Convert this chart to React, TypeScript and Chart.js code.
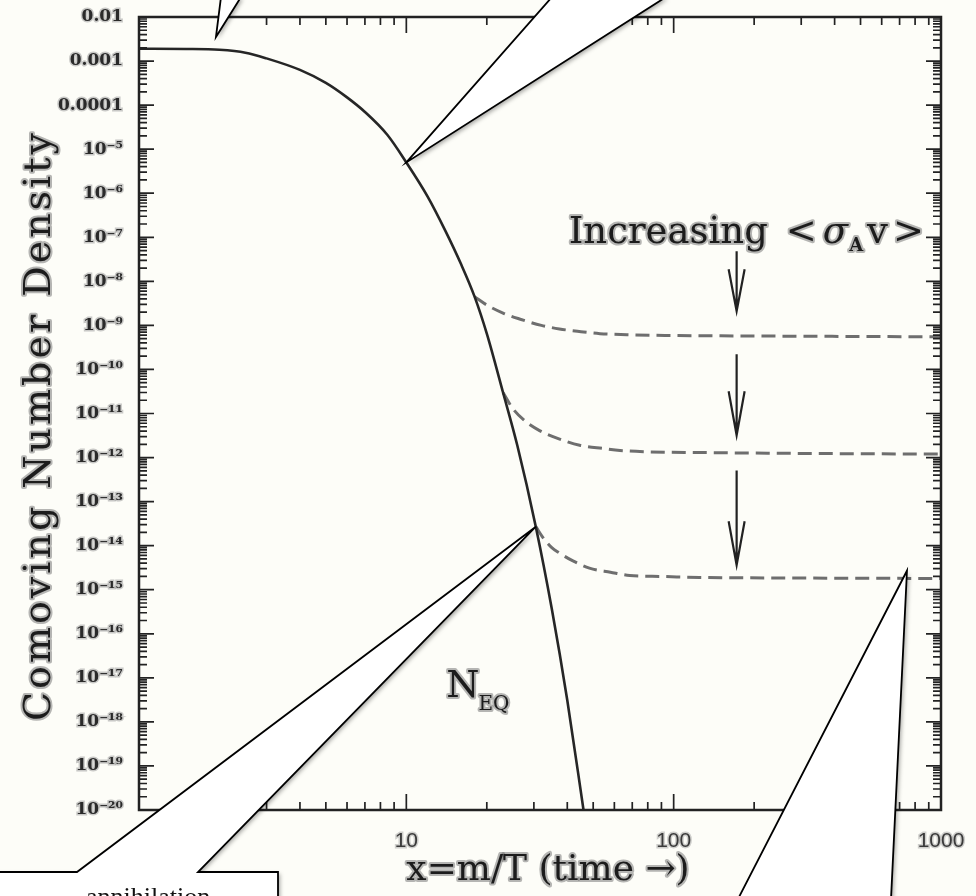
import React, { useEffect, useRef } from "react";
import { Chart, registerables } from "chart.js";

Chart.register(...registerables);

// ---------------- data ----------------
const X_MIN = 1;
const X_MAX = 1000;
const Y_MIN = 1e-20;
const Y_MAX = 1e-2;

const xTickValues = [10, 100, 1000];
const xTickLabels = ["10", "100", "1000"];

const yTickValues = [
  1e-2, 1e-3, 1e-4, 1e-5, 1e-6, 1e-7, 1e-8, 1e-9, 1e-10, 1e-11,
  1e-12, 1e-13, 1e-14, 1e-15, 1e-16, 1e-17, 1e-18, 1e-19, 1e-20,
];
const yTickLabels = [
  "0.01", "0.001", "0.0001", "10⁻⁵", "10⁻⁶", "10⁻⁷", "10⁻⁸", "10⁻⁹", "10⁻¹⁰", "10⁻¹¹",
  "10⁻¹²", "10⁻¹³", "10⁻¹⁴", "10⁻¹⁵", "10⁻¹⁶", "10⁻¹⁷", "10⁻¹⁸", "10⁻¹⁹", "10⁻²⁰",
];

// equilibrium abundance (solid)
const eqX = [1, 1.5, 2, 2.5, 3, 4, 5, 6, 7, 8.5, 10, 12, 14, 16, 18, 20, 23, 26, 30.5, 35, 40, 46];
const eqY = [
  1.9e-3, 1.88e-3, 1.8e-3, 1.55e-3, 1.15e-3, 6.3e-4, 3.2e-4, 1.5e-4, 7e-5, 2.1e-5, 5e-6,
  8.5e-7, 1.4e-7, 2.5e-8, 4.5e-9, 6.5e-10, 3e-11, 1.9e-12, 2.7e-14, 3.7e-16, 3.1e-18, 1e-20,
];

// freeze-out curves (dashed), increasing <σv> from top to bottom
const d1X = [18, 20, 23, 26.5, 32, 37.4, 45, 53, 70, 100, 150, 250, 500, 1000];
const d1Y = [4.5e-9, 2.9e-9, 1.9e-9, 1.4e-9, 1.0e-9, 8.3e-10, 7.2e-10, 6.5e-10, 6.1e-10, 5.9e-10, 5.8e-10, 5.7e-10, 5.6e-10, 5.5e-10];

const d2X = [23, 25, 28, 31.5, 37, 44.5, 55, 63, 80, 125, 250, 500, 1000];
const d2Y = [3e-11, 1.3e-11, 6.5e-12, 4.1e-12, 2.7e-12, 1.9e-12, 1.6e-12, 1.45e-12, 1.35e-12, 1.3e-12, 1.25e-12, 1.22e-12, 1.2e-12];

const d3X = [30.5, 32.5, 35, 37.4, 42, 48.4, 58, 68.5, 90, 125, 250, 500, 1000];
const d3Y = [2.7e-14, 1.5e-14, 9e-15, 6.8e-15, 4.5e-15, 3.1e-15, 2.5e-15, 2.1e-15, 2e-15, 1.9e-15, 1.85e-15, 1.82e-15, 1.8e-15];

// annotations (data coordinates)
const arrowX = 172;
const arrowTops = [4.8e-8, 2.2e-10, 5.1e-13];
const arrowTips = [2.1e-9, 3.2e-12, 3.6e-15];
const increasingAnchor = { x: 40.5, y: 7.5e-8 };
const neqAnchor = { x: 14.1, y: 3.7e-18 };
const calloutTips = [
  { x: 1.94, y: 3.5e-3 },
  { x: 10, y: 5e-6 },
  { x: 30.5, y: 2.7e-14 },
  { x: 746, y: 2.7e-15 },
];

const yTitle = "Comoving Number Density";
const xTitle = "x=m/T (time →)";
const calloutText = "annihilation";

// ---------------- helpers ----------------
const BG = "#fdfdf8";
const INK = "#1c1c1c";

const pts = (xs: number[], ys: number[]) => xs.map((x, i) => ({ x, y: ys[i] }));

function labelFor(values: number[], labels: string[], v: number) {
  for (let i = 0; i < values.length; i++) {
    if (Math.abs(Math.log10(values[i]) - Math.log10(v)) < 1e-6) return labels[i];
  }
  return "";
}

function haloText(ctx: CanvasRenderingContext2D, s: string, x: number, y: number) {
  ctx.lineJoin = "round";
  ctx.lineWidth = 4;
  ctx.strokeStyle = "rgba(110,110,110,0.5)";
  ctx.strokeText(s, x, y);
  ctx.fillStyle = INK;
  ctx.fillText(s, x, y);
}

const framePlugin = {
  id: "frame",
  beforeDraw(chart: any) {
    const { ctx, width, height } = chart;
    ctx.save();
    ctx.fillStyle = BG;
    ctx.fillRect(0, 0, width, height);
    ctx.restore();
  },
  afterDraw(chart: any) {
    const { ctx, chartArea: a, scales, height } = chart;
    const xs = scales.x;
    const ys = scales.y;
    ctx.save();

    // frame
    ctx.strokeStyle = "#222";
    ctx.lineWidth = 2.5;
    ctx.strokeRect(a.left, a.top, a.right - a.left, a.bottom - a.top);

    // inward ticks on all four sides
    ctx.lineWidth = 1.7;
    ctx.beginPath();
    for (let d = 0; d < 3; d++) {
      for (let m = 1; m <= 9; m++) {
        const v = m * Math.pow(10, d);
        if (v <= X_MIN || v >= X_MAX) continue;
        const px = xs.getPixelForValue(v);
        const len = m === 1 ? 16 : 8;
        ctx.moveTo(px, a.bottom);
        ctx.lineTo(px, a.bottom - len);
        ctx.moveTo(px, a.top);
        ctx.lineTo(px, a.top + len);
      }
    }
    for (let e = -20; e <= -3; e++) {
      for (let m = 1; m <= 9; m++) {
        const v = m * Math.pow(10, e);
        if (v <= Y_MIN || v >= Y_MAX) continue;
        const py = ys.getPixelForValue(v);
        const len = m === 1 ? 15 : 8;
        ctx.moveTo(a.left, py);
        ctx.lineTo(a.left + len, py);
        ctx.moveTo(a.right, py);
        ctx.lineTo(a.right - len, py);
      }
    }
    ctx.stroke();

    // arrows
    const ax = xs.getPixelForValue(arrowX);
    ctx.strokeStyle = "#222";
    ctx.lineWidth = 2.2;
    for (let i = 0; i < arrowTops.length; i++) {
      const t = ys.getPixelForValue(arrowTops[i]);
      const b = ys.getPixelForValue(arrowTips[i]);
      const head = Math.min(44, (b - t) * 0.7);
      ctx.beginPath();
      ctx.moveTo(ax, t);
      ctx.lineTo(ax, b);
      ctx.moveTo(ax - 8, b - head);
      ctx.lineTo(ax, b);
      ctx.lineTo(ax + 8, b - head);
      ctx.stroke();
    }

    // "Increasing <σ_A v>"
    ctx.textBaseline = "alphabetic";
    ctx.textAlign = "left";
    let px = xs.getPixelForValue(increasingAnchor.x);
    const py = ys.getPixelForValue(increasingAnchor.y);
    ctx.font = '37px "DejaVu Serif"';
    haloText(ctx, "Increasing", px, py);
    px += ctx.measureText("Increasing").width + 18;
    haloText(ctx, "<", px, py);
    px += ctx.measureText("<").width + 6;
    ctx.font = 'italic 37px "DejaVu Serif"';
    haloText(ctx, "σ", px, py);
    px += ctx.measureText("σ").width + 1;
    ctx.font = 'bold 18px "DejaVu Serif"';
    haloText(ctx, "A", px, py + 8);
    px += ctx.measureText("A").width + 4;
    ctx.font = '37px "DejaVu Serif"';
    haloText(ctx, "v", px, py);
    px += ctx.measureText("v").width + 5;
    haloText(ctx, ">", px, py);

    // N_EQ
    const nx = xs.getPixelForValue(neqAnchor.x);
    const ny = ys.getPixelForValue(neqAnchor.y);
    ctx.font = '38px "DejaVu Serif"';
    haloText(ctx, "N", nx, ny);
    const nw = ctx.measureText("N").width;
    ctx.font = '20px "DejaVu Serif"';
    haloText(ctx, "EQ", nx + nw - 1, ny + 13);

    // axis titles
    ctx.font = '38px "DejaVu Serif"';
    (ctx as any).letterSpacing = "3px";
    ctx.textAlign = "center";
    ctx.textBaseline = "middle";
    ctx.save();
    ctx.translate(40, (a.top + a.bottom) / 2 + 12);
    ctx.rotate(-Math.PI / 2);
    haloText(ctx, yTitle, 0, 0);
    ctx.restore();
    (ctx as any).letterSpacing = "0px";
    ctx.font = '36px "DejaVu Serif"';
    haloText(ctx, xTitle, (a.left + a.right) / 2 + 8, a.bottom + 61);

    // callouts (speech-bubble pointers)
    const tip = (i: number) => ({
      x: xs.getPixelForValue(calloutTips[i].x),
      y: ys.getPixelForValue(calloutTips[i].y),
    });
    const drawCallout = (fill: number[][], stroke: number[][]) => {
      ctx.save();
      ctx.fillStyle = "#ffffff";
      ctx.shadowColor = "rgba(0,0,0,0.35)";
      ctx.shadowBlur = 4;
      ctx.shadowOffsetX = 2;
      ctx.shadowOffsetY = 2;
      ctx.beginPath();
      fill.forEach(([x, y], k) => (k === 0 ? ctx.moveTo(x, y) : ctx.lineTo(x, y)));
      ctx.closePath();
      ctx.fill();
      ctx.restore();
      ctx.save();
      ctx.strokeStyle = "#000";
      ctx.lineWidth = 1.8;
      ctx.lineJoin = "miter";
      ctx.beginPath();
      stroke.forEach(([x, y], k) => (k === 0 ? ctx.moveTo(x, y) : ctx.lineTo(x, y)));
      ctx.stroke();
      ctx.restore();
    };
    const t1 = tip(0);
    drawCallout([[t1.x, t1.y], [221, -3], [241, -3]], [[221, -3], [t1.x, t1.y], [241, -3]]);
    const t2 = tip(1);
    drawCallout([[t2.x, t2.y], [552, -3], [666, -3]], [[552, -3], [t2.x, t2.y], [666, -3]]);
    const t3 = tip(2);
    drawCallout(
      [[t3.x, t3.y], [198, 872], [278, 872], [278, height + 5], [-5, height + 5], [-5, 872], [77, 872]],
      [[-5, 872], [77, 872], [t3.x, t3.y], [198, 872], [278, 872], [278, height + 5]]
    );
    const t4 = tip(3);
    drawCallout([[t4.x, t4.y], [891, height + 3], [738, height + 3]], [[738, height + 3], [t4.x, t4.y], [891, height + 3]]);

    // callout text (mostly cut off by the page edge)
    ctx.textAlign = "left";
    ctx.textBaseline = "alphabetic";
    ctx.font = '26px "Liberation Serif"';
    ctx.fillStyle = "#111";
    ctx.fillText(calloutText, 86, height + 9);

    ctx.restore();
  },
};

export default function App() {
  const ref = useRef<HTMLCanvasElement | null>(null);

  useEffect(() => {
    document.body.style.margin = "0";
    document.body.style.background = BG;
    const canvas = ref.current;
    if (!canvas) return;
    const dashed = (label: string, data: any) => ({
      label,
      data,
      borderColor: "#6e6e6e",
      borderWidth: 3,
      borderDash: [14, 7],
      pointRadius: 0,
      cubicInterpolationMode: "monotone",
      fill: false,
    });
    const chart = new Chart(canvas, {
      type: "line",
      data: {
        datasets: [
          {
            label: "N_EQ",
            data: pts(eqX, eqY),
            borderColor: "#262626",
            borderWidth: 2.6,
            pointRadius: 0,
            cubicInterpolationMode: "monotone",
            fill: false,
          },
          dashed("freeze-out 1", pts(d1X, d1Y)),
          dashed("freeze-out 2", pts(d2X, d2Y)),
          dashed("freeze-out 3", pts(d3X, d3Y)),
        ],
      },
      options: {
        responsive: false,
        animation: false,
        devicePixelRatio: 1,
        layout: { padding: { top: 17, right: 35, left: 0, bottom: 0 } },
        plugins: { legend: { display: false }, tooltip: { enabled: false } },
        scales: {
          x: {
            type: "logarithmic",
            position: "bottom",
            min: X_MIN,
            max: X_MAX,
            grid: { display: false, drawTicks: false },
            border: { display: false },
            afterBuildTicks: (s: any) => {
              s.ticks = xTickValues.map((v) => ({ value: v }));
            },
            afterFit: (s: any) => {
              s.height = 86;
              s.paddingLeft = 0;
              s.paddingRight = 0;
            },
            ticks: {
              autoSkip: false,
              maxRotation: 0,
              padding: 19,
              font: { family: '"Liberation Sans", Arial, sans-serif', size: 21 },
              color: "#3a3a3a",
              textStrokeColor: "rgba(150,150,150,0.45)",
              textStrokeWidth: 3,
              callback: (v: any) => labelFor(xTickValues, xTickLabels, Number(v)),
            },
          },
          y: {
            type: "logarithmic",
            position: "left",
            min: Y_MIN,
            max: Y_MAX,
            grid: { display: false, drawTicks: false },
            border: { display: false },
            afterBuildTicks: (s: any) => {
              s.ticks = yTickValues.map((v) => ({ value: v }));
            },
            afterFit: (s: any) => {
              s.width = 139;
              s.paddingTop = 0;
              s.paddingBottom = 0;
            },
            ticks: {
              autoSkip: false,
              padding: 16,
              font: { family: '"DejaVu Serif", serif', size: 17, weight: "bold" },
              color: "#2a2a2a",
              textStrokeColor: "rgba(150,150,150,0.5)",
              textStrokeWidth: 3,
              callback: (v: any) => labelFor(yTickValues, yTickLabels, Number(v)),
            },
          },
        },
      },
      plugins: [framePlugin],
    } as any);
    return () => chart.destroy();
  }, []);

  return (
    <div style={{ width: 976, height: 896, background: BG }}>
      <canvas ref={ref} width={976} height={896} style={{ display: "block", width: 976, height: 896 }} />
    </div>
  );
}
